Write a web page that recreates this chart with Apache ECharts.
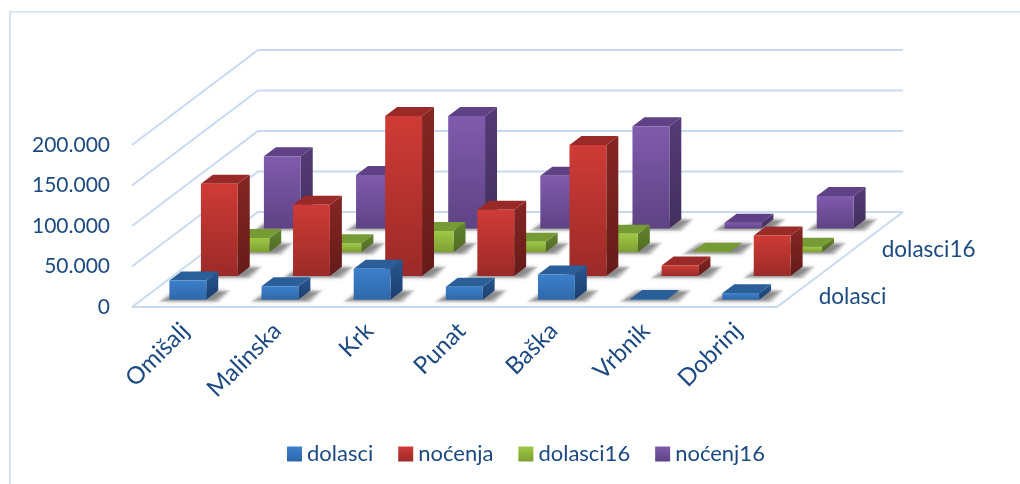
<!DOCTYPE html>
<html>
<head>
<meta charset="utf-8">
<script src="https://cdn.jsdelivr.net/npm/echarts@6/dist/echarts.min.js"></script>
<style>
html, body { margin: 0; padding: 0; background: #fff; }
#main { width: 1020px; height: 484px; }
</style>
</head>
<body>
<div id="main"></div>
<script>
const categories = ['Omišalj', 'Malinska', 'Krk', 'Punat', 'Baška', 'Vrbnik', 'Dobrinj'];
const dolasci = [23500, 16400, 38000, 16000, 31000, 800, 7800];
const nocenja = [113600, 87700, 197500, 81500, 161700, 12700, 49800];
const dolasci16 = [17300, 11000, 26000, 12700, 22600, 400, 6500];
const nocenj16 = [89000, 66000, 138600, 65000, 126000, 7000, 40000];
const yTicks = [0, 50000, 100000, 150000, 200000];
const depthLabels = ['dolasci', '', 'dolasci16', ''];

const textColor = '#1c4a80';
const gridColor = '#c9daf0';
const font = 'Lato';

// oblique projection of the depth axis: whole floor depth in pixels
const depthX = 126;
const depthY = -95;
const rows = 4;

function vgrad(a, b) {
  return new echarts.graphic.LinearGradient(0, 0, 0, 1, [
    { offset: 0, color: a },
    { offset: 1, color: b }
  ]);
}

const looks = [
  { front: ['#3b7fcb', '#2f68aa'], top: '#2b5f99', side: ['#26568f', '#1c3f6e'] },
  { front: ['#cf3b36', '#9b2a28'], top: '#9a2a28', side: ['#852623', '#651b1a'] },
  { front: ['#9ec845', '#7e9f33'], top: '#769b34', side: ['#64852d', '#4f6a23'] },
  { front: ['#805bad', '#5e4384'], top: '#5e4285', side: ['#543b76', '#432f5f'] }
];

function shift(p, z) {
  return [p[0] + depthX * z / rows, p[1] + depthY * z / rows];
}

function barRenderer(row) {
  return function (params, api) {
    const cat = api.value(0);
    const val = api.value(1);
    const step = api.size([1, 0])[0];
    const w = step * 0.4;
    const look = looks[row];
    const base = api.coord([cat, 0]);
    const head = api.coord([cat, val]);
    const x0 = base[0] - w / 2;
    const x1 = base[0] + w / 2;
    const zf = row + 0.31;
    const zb = row + 0.69;
    const bl = shift([x0, base[1]], zf);
    const br = shift([x1, base[1]], zf);
    const tl = shift([x0, head[1]], zf);
    const tr = shift([x1, head[1]], zf);
    const bbr = shift([x1, base[1]], zb);
    const tbl = shift([x0, head[1]], zb);
    const tbr = shift([x1, head[1]], zb);
    const poly = (points, fill) => ({
      type: 'polygon',
      shape: { points: points },
      style: { fill: fill },
      silent: true
    });
    // soft floor shadow, stacked faint layers that shrink toward the bar
    const shadow = [];
    for (let i = 0; i < 5; i++) {
      const e = (4 - i) * 1.7;
      shadow.push({
        type: 'polygon',
        shape: {
          points: [
            [bl[0] - 5 - e, bl[1] + e * 0.4],
            [br[0] + 6 + e, br[1] + e * 0.4],
            [bbr[0] + 6 + e, bbr[1] + 2 - e * 0.4],
            [bbr[0] - w - e, bbr[1] + 2 - e * 0.4]
          ]
        },
        style: {
          fill: 'rgba(50,50,50,0.085)',
          shadowColor: 'rgba(50,50,50,0.9)',
          shadowBlur: 4
        },
        silent: true
      });
    }
    return {
      type: 'group',
      children: shadow.concat([
        poly([br, bbr, tbr, tr], vgrad(look.side[0], look.side[1])),
        poly([tl, tr, tbr, tbl], look.top),
        poly([bl, br, tr, tl], vgrad(look.front[0], look.front[1]))
      ])
    };
  };
}

function barSeries(name, values, row) {
  return {
    name: name,
    type: 'custom',
    z: 10 - row,
    coordinateSystem: 'cartesian2d',
    itemStyle: { color: vgrad(looks[row].front[0], looks[row].front[1]) },
    renderItem: barRenderer(row),
    encode: { x: 0, y: 1 },
    data: values.map((v, i) => [i, v])
  };
}

// floor and wall lines, built from the axes
function wallRenderer(params, api) {
  const v = api.value(0);
  const last = categories.length - 1;
  const half = api.size([1, 0])[0] / 2;
  const a = api.coord([0, v]);
  const b = api.coord([last, v]);
  const left = [a[0] - half, a[1]];
  const right = [b[0] + half, b[1]];
  const lineStyle = { stroke: gridColor, lineWidth: 2, fill: 'none' };
  const kids = [{
    type: 'polyline',
    shape: { points: [left, shift(left, rows), shift(right, rows)] },
    style: lineStyle,
    silent: true
  }];
  if (v === 0) {
    kids.push({
      type: 'polyline',
      shape: { points: [left, right, shift(right, rows)] },
      style: lineStyle,
      silent: true
    });
  }
  return { type: 'group', children: kids };
}

function depthLabelRenderer(params, api) {
  const row = api.value(0);
  const half = api.size([1, 0])[0] / 2;
  const b = api.coord([categories.length - 1, 0]);
  const p = shift([b[0] + half, b[1]], row + 0.5);
  return {
    type: 'text',
    x: p[0] + 26,
    y: p[1] + 2,
    style: {
      text: depthLabels[row],
      fill: textColor,
      font: '22.5px ' + font,
      textAlign: 'left',
      textVerticalAlign: 'middle'
    },
    silent: true
  };
}

const option = {
  animation: false,
  backgroundColor: '#fff',
  textStyle: { fontFamily: font },
  graphic: [
    { type: 'rect', shape: { x: 9, y: 11, width: 1011, height: 1.5 }, style: { fill: '#d5e2f3' }, silent: true },
    { type: 'rect', shape: { x: 9, y: 11, width: 2, height: 473 }, style: { fill: '#d5e2f3' }, silent: true }
  ],
  legend: {
    data: ['dolasci', 'noćenja', 'dolasci16', 'noćenj16'],
    left: 282,
    top: 438,
    icon: 'rect',
    itemWidth: 15,
    itemHeight: 15,
    itemGap: 25,
    selectedMode: false,
    textStyle: { color: textColor, fontSize: 22, fontFamily: font }
  },
  grid: { left: 132, right: 243, top: 145, bottom: 177 },
  xAxis: {
    type: 'category',
    data: categories,
    axisLine: { show: false },
    axisTick: { show: false },
    splitLine: { show: false },
    axisLabel: {
      interval: 0,
      rotate: 45,
      margin: 27,
      padding: [0, -10, 0, 0],
      color: textColor,
      fontSize: 24,
      fontFamily: font
    }
  },
  yAxis: {
    type: 'value',
    min: 0,
    max: 200000,
    interval: 50000,
    axisLine: { show: false },
    axisTick: { show: false },
    splitLine: { show: false },
    axisLabel: {
      margin: 22,
      color: textColor,
      fontSize: 21,
      fontFamily: font,
      padding: [2, 0, 0, 0],
      formatter: v => String(v).replace(/\B(?=(\d{3})+$)/g, '.')
    }
  },
  series: [
    {
      name: 'walls',
      type: 'custom',
      z: 1,
      renderItem: wallRenderer,
      encode: { y: 0 },
      data: yTicks.map(v => [v])
    },
    barSeries('dolasci', dolasci, 0),
    barSeries('noćenja', nocenja, 1),
    barSeries('dolasci16', dolasci16, 2),
    barSeries('noćenj16', nocenj16, 3),
    {
      name: 'depth',
      type: 'custom',
      z: 12,
      renderItem: depthLabelRenderer,
      encode: { y: 1 },
      data: depthLabels.map((t, i) => [i, 0]).filter(d => depthLabels[d[0]])
    }
  ]
};

const myChart = echarts.init(document.getElementById('main'), null, { renderer: 'canvas' });
myChart.setOption(option);
</script>
</body>
</html>
